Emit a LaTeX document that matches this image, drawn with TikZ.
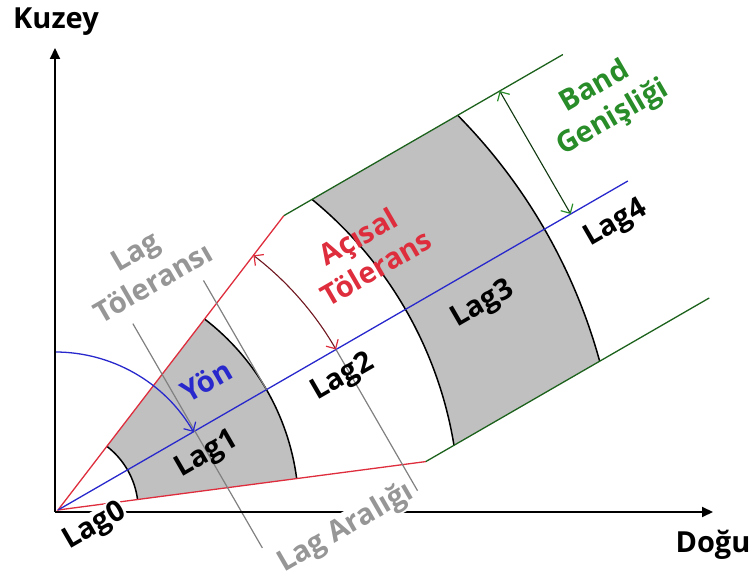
\documentclass[tikz,border=0pt]{standalone}
\usepackage{fontspec}
\setmainfont{Open Sans}
\usetikzlibrary{positioning, arrows.meta, calc}
\definecolor{lagfill}{HTML}{C0C0C0}
\definecolor{tolred}{RGB}{222,45,60}
\definecolor{bandgreen}{RGB}{40,140,40}
\definecolor{dirblue}{RGB}{40,40,205}
\definecolor{notegray}{RGB}{150,150,150}

\tikzset{
  lbl/.style={font=\fontsize{29}{36}\selectfont\bfseries, inner sep=1pt, align=center},
  laglbl/.style={lbl, rotate=30},
  notelbl/.style={laglbl, text=notegray},
  axisline/.style={line width=2pt, -{Triangle[length=11pt, width=10pt]}},
  lagarc/.style={line width=1.5pt},
  barb/.tip={Straight Barb[length=7pt, width=14pt, line width=1.2pt]}
}

\begin{document}
\begin{tikzpicture}[x=1pt, y=1pt]
  \useasboundingbox (0,0) rectangle (752,586);
  \coordinate (O) at (58,76);
  \coordinate (corner) at (55,74);
  \coordinate (north) at (55,538);
  \coordinate (east) at (713,74);
  \coordinate (yonstart) at (55,234);
  \pgfmathsetmacro\aC{asin(142/401.25)}
  \pgfmathsetmacro\aD{asin(142/561.75)}

  \begin{scope}[shift={(O)}, rotate=30]
    \coordinate (dirend) at (658,0);
    \coordinate (redup) at (22.5:371);
    \coordinate (redlo) at (-22.5:371);
    \coordinate (grnup) at (665,142);
    \coordinate (grnlo) at (670,-142);
    \coordinate (tol1a) at (158,124);
    \coordinate (tol1b) at (158,-135);
    \coordinate (tol2a) at (240.75,126);
    \coordinate (tol2b) at (240.75,0);
    \coordinate (ar1) at (321,0);
    \coordinate (ar2) at (321,-163);
    \coordinate (bw1) at (592,142);
    \coordinate (bw2) at (592,0);

    \fill[lagfill] (-22.5:80.25) -- (-22.5:240.75)
      arc[start angle=-22.5, end angle=22.5, radius=240.75] -- (22.5:80.25)
      arc[start angle=22.5, end angle=-22.5, radius=80.25] -- cycle;
    \fill[lagfill] (-\aC:401.25) arc[start angle=-\aC, end angle=\aC, radius=401.25]
      -- (\aD:561.75) arc[start angle=\aD, end angle=-\aD, radius=561.75] -- cycle;

    \draw[lagarc] (-22.5:80.25) arc[start angle=-22.5, end angle=22.5, radius=80.25];
    \draw[lagarc] (-22.5:240.75) arc[start angle=-22.5, end angle=22.5, radius=240.75];
    \draw[lagarc] (-\aC:401.25) arc[start angle=-\aC, end angle=\aC, radius=401.25];
    \draw[lagarc] (-\aD:561.75) arc[start angle=-\aD, end angle=\aD, radius=561.75];

    \draw[tolred, line width=1.3pt] (redlo) -- (O) -- (redup);
    \draw[bandgreen!70!black, line width=1.3pt] (redup) -- (grnup);
    \draw[bandgreen!70!black, line width=1.3pt] (redlo) -- (grnlo);
    \draw[dirblue, line width=1.3pt] (O) -- (dirend);

    \draw[notegray!85!black, line width=1.2pt] (tol1a) -- (tol1b);
    \draw[notegray!85!black, line width=1.2pt] (tol2a) -- (tol2b);
    \draw[notegray!85!black, line width=1.2pt] (ar1) -- (ar2);

    \draw[tolred!50!black, line width=1.1pt, {barb[tolred]}-{barb[tolred]}] (ar1)
      arc[start angle=0, end angle=22.5, radius=321];
    \draw[bandgreen!40!black, line width=1.1pt, {barb[bandgreen]}-{barb[bandgreen]}] (bw1) -- (bw2);
  \end{scope}

  \draw[dirblue, line width=1.3pt, -{barb[dirblue]}] (yonstart)
    arc[start angle=90, end angle=30, radius=160];

  \draw[axisline] (corner) -- (north);
  \draw[axisline] (corner) -- (east);

  \node[lbl] (kuzey) at (56,564) {Kuzey};
  \node[lbl] (dogu) at (713,41) {Doğu};
  \node[laglbl, fill=white] (lag0) at (95,59) {Lag0};
  \node[laglbl] (lag1) at (207,131) {Lag1};
  \node[laglbl] (lag2) at (343,208) {Lag2};
  \node[laglbl] (lag3) at (483,281) {Lag3};
  \node[laglbl] (lag4) at (616,362) {Lag4};
  \node[laglbl, text=dirblue] (yon) at (206,205) {Yön};
  \node[laglbl, text=tolred] (actol) at (367,334) {Açısal\\Tölerans};
  \node[laglbl, text=bandgreen] (bandw) at (604,483) {Band\\Genişliği};
  \node[notelbl] (lagtol) at (144,319) {Lag\\Töleransı};
  \node[notelbl, fill=white] (lagar) at (346,58) {Lag Aralığı};
\end{tikzpicture}
\end{document}
